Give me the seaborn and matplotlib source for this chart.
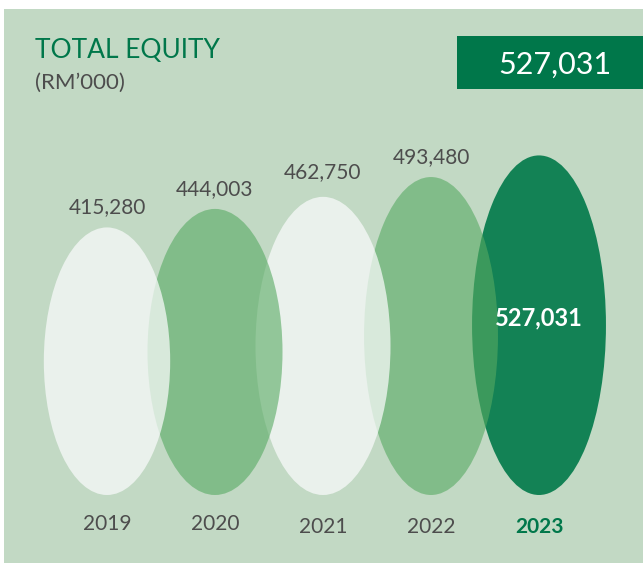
import numpy as np
import pandas as pd
import matplotlib
matplotlib.use('Agg')
import matplotlib.pyplot as plt
from matplotlib.patches import Ellipse, Rectangle
import seaborn as sns


# Total equity bubbles, RM'000

years = ['2019', '2020', '2021', '2022', '2023']
equity = [415280, 444003, 462750, 493480, 527031]

bg_col = '#c2d9c4'
dark_green = '#00774a'
grey_txt = '#4d4d4d'

fills = ['#f9fafb', '#57aa62', '#f9fafb', '#57aa62', '#138255']
alphas = [0.73, 0.6, 0.73, 0.6, 1.0]
widths = [1.17, 1.25, 1.25, 1.24, 1.24]
value_offsets = [14.5, 14.5, 17.5, 14.5, 0]
year_offsets = [-21, -21, -23, -23, -23]


def plot():
    sns.set_theme(style='white')
    plt.rcParams['font.family'] = ['Lato', 'DejaVu Sans']

    df = pd.DataFrame({'year': years, 'equity': equity})
    df['pos'] = np.arange(len(df))

    fig = plt.figure(figsize=(6.43, 5.63), dpi=100)
    fig.patch.set_facecolor('white')

    # green panel behind everything
    fig.patches.append(Rectangle((4 / 643, 0), 639 / 643, 554 / 563,
                                 transform=fig.transFigure, facecolor=bg_col,
                                 edgecolor='none', zorder=-5))

    ax = fig.add_axes([53 / 643, 68 / 563, 540 / 643, 386.6 / 563])
    ax.set_facecolor('none')
    ax.set_xlim(-0.5, 4.5)
    ax.set_ylim(0, 600000)
    ax.axis('off')

    # right-most drawn first, so the left ones sit on top
    for i in reversed(range(len(df))):
        row = df.iloc[i]
        e = Ellipse((row.pos, row.equity / 2), widths[i], row.equity,
                    facecolor=fills[i], alpha=alphas[i], edgecolor='none',
                    zorder=10 - i, clip_on=False)
        ax.add_patch(e)

    last = len(df) - 1
    for i, row in df.iterrows():
        if i != last:
            ax.annotate(f'{row.equity:,}', (row.pos, row.equity),
                        xytext=(0, value_offsets[i]), textcoords='offset points',
                        ha='center', va='center', fontsize=15,
                        color=grey_txt, zorder=20, annotation_clip=False)
        else:
            ax.text(row.pos, row.equity * 0.52, f'{row.equity:,}',
                    ha='center', va='center', fontsize=17,
                    fontweight='bold', color='white', zorder=20)

        ax.annotate(row.year, (row.pos, 0),
                    xytext=(0, year_offsets[i]), textcoords='offset points',
                    ha='center', va='center', fontsize=15,
                    color=dark_green if i == last else grey_txt,
                    fontweight='bold' if i == last else 'normal', zorder=20,
                    annotation_clip=False)

    # header
    fig.text(35 / 643, 1 - 51 / 563, 'TOTAL EQUITY', fontsize=19,
             color=dark_green, ha='left', va='center')
    fig.text(35 / 643, 1 - 83 / 563, '(RM\u2019000)', fontsize=16,
             color=grey_txt, ha='left', va='center')

    fig.patches.append(Rectangle((457 / 643, 1 - 89 / 563), 186 / 643, 53 / 563,
                                 transform=fig.transFigure, facecolor=dark_green,
                                 edgecolor='none', zorder=1))
    fig.text(555 / 643, 1 - 65 / 563, f'{equity[-1]:,}', fontsize=22,
             color='white', ha='center', va='center', zorder=2)

    fig.savefig('out.png', dpi=100, facecolor=fig.get_facecolor())
    plt.close(fig)


if __name__ == '__main__':
    plot()
